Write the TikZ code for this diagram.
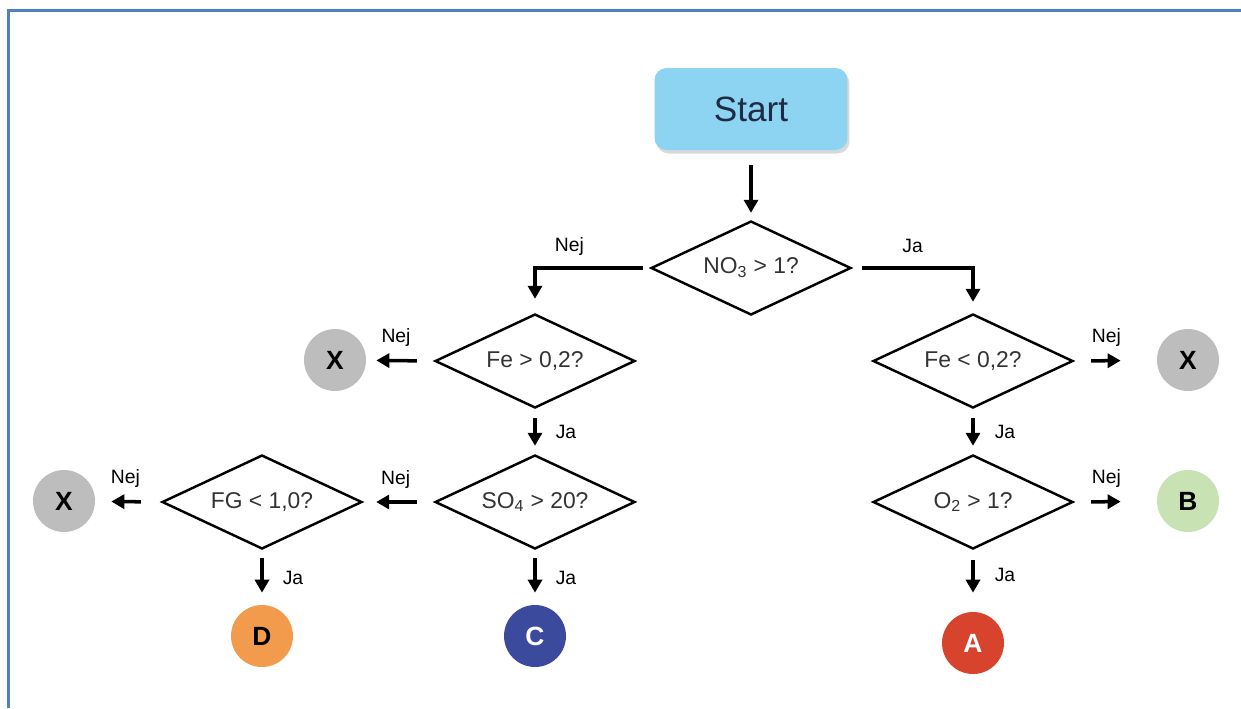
\documentclass[tikz,border=0pt]{standalone}
\usepackage{fontspec}
\setmainfont{Liberation Sans}
\usepackage{xcolor}
\usepackage{tikz}
\usetikzlibrary{shapes.geometric, arrows.meta, positioning, shadows}
\definecolor{fcframe}{HTML}{4F81BD}
\definecolor{fcstart}{HTML}{8DD3F2}
\definecolor{fcnavy}{HTML}{1F2A44}
\definecolor{fcgray}{HTML}{BDBDBD}
\definecolor{fcgreen}{HTML}{C9E2B3}
\definecolor{fcorange}{HTML}{F39B4D}
\definecolor{fcblue}{HTML}{3C4A9E}
\definecolor{fcred}{HTML}{D8432E}
\definecolor{fctext}{HTML}{333333}

\begin{document}
\begin{tikzpicture}[
    x=0.02cm, y=-0.02cm,
    startbox/.style={rectangle, rounded corners=0.24cm, fill=fcstart, minimum width=3.86cm, minimum height=1.64cm,
        font=\fontsize{20}{24}\selectfont, text=fcnavy, drop shadow={opacity=0.3, shadow xshift=0.04cm, shadow yshift=-0.07cm}},
    query/.style={diamond, draw=black, line width=1.4pt, aspect=2.13, inner sep=0pt, minimum width=4cm, minimum height=1.88cm,
        font=\fontsize{13}{15}\selectfont, text=fctext},
    result/.style={circle, minimum size=1.24cm, inner sep=0pt, font=\fontsize{15}{17}\selectfont\bfseries},
    lbl/.style={font=\fontsize{11}{13}\selectfont, text=black},
    arrow/.style={-{Triangle[length=2.6mm, width=2.8mm]}, line width=2pt, color=black}
]
\useasboundingbox (0,0) rectangle (1241,708);

% Frame
\draw[fcframe, line width=1.8pt] (8.5,708) -- (8.5,10.5) -- (1241,10.5);

% Start
\node[startbox] (start) at (751,109) {Start};

% Questions
\node[query] (qno) at (751,268) {NO\textsubscript{3} > 1?};
\node[query] (qfehi) at (535,361) {Fe > 0,2?};
\node[query] (qso) at (535,502) {SO\textsubscript{4} > 20?};
\node[query] (qfg) at (262,502) {FG < 1,0?};
\node[query] (qfelo) at (973,361) {Fe < 0,2?};
\node[query] (qo) at (973,502) {O\textsubscript{2} > 1?};

% Results
\node[result, fill=fcgray] (xa) at (335,360) {X};
\node[result, fill=fcgray] (xb) at (64,501) {X};
\node[result, fill=fcgray] (xc) at (1188,360) {X};
\node[result, fill=fcorange] (rD) at (262,636) {D};
\node[result, fill=fcblue, text=white] (rC) at (535,636) {C};
\node[result, fill=fcgreen] (rB) at (1188,501) {B};
\node[result, fill=fcred, text=white] (rA) at (973,643) {A};

% Start to first question
\draw[arrow, shorten <=0.3cm, shorten >=0.14cm] (start) -- (qno);

% Branches of NO3
\draw[arrow, shorten <=0.14cm, shorten >=0.28cm] (qno.west) -| node[lbl, pos=0.35, yshift=0.44cm] {Nej} (qfehi.north);
\draw[arrow, shorten <=0.2cm, shorten >=0.22cm] (qno.east) -| node[lbl, pos=0.25, yshift=0.44cm] {Ja} (qfelo.north);

% Left column
\draw[arrow, shorten <=0.34cm, shorten >=0.2cm] (qfehi.west) -- node[lbl, pos=0.56, yshift=0.46cm] {Nej} (xa);
\draw[arrow, shorten <=0.18cm, shorten >=0.16cm] (qfehi.south) -- node[lbl, midway, xshift=0.62cm] {Ja} (qso.north);
\draw[arrow, shorten <=0.34cm, shorten >=0.26cm] (qso.west) -- node[lbl, pos=0.54, yshift=0.46cm] {Nej} (qfg.east);
\draw[arrow, shorten <=0.16cm, shorten >=0.24cm] (qso.south) -- node[lbl, midway, xshift=0.62cm] {Ja} (rC);
\draw[arrow, shorten <=0.4cm, shorten >=0.32cm] (qfg.west) -- node[lbl, pos=0.54, yshift=0.46cm] {Nej} (xb);
\draw[arrow, shorten <=0.16cm, shorten >=0.24cm] (qfg.south) -- node[lbl, midway, xshift=0.62cm] {Ja} (rD);

% Right column
\draw[arrow, shorten <=0.34cm, shorten >=0.72cm] (qfelo.east) -- node[lbl, pos=0.39, yshift=0.46cm] {Nej} (xc);
\draw[arrow, shorten <=0.18cm, shorten >=0.16cm] (qfelo.south) -- node[lbl, midway, xshift=0.64cm] {Ja} (qo.north);
\draw[arrow, shorten <=0.34cm, shorten >=0.72cm] (qo.east) -- node[lbl, pos=0.39, yshift=0.46cm] {Nej} (rB);
\draw[arrow, shorten <=0.2cm, shorten >=0.38cm] (qo.south) -- node[lbl, pos=0.4, xshift=0.64cm] {Ja} (rA);

\end{tikzpicture}
\end{document}
